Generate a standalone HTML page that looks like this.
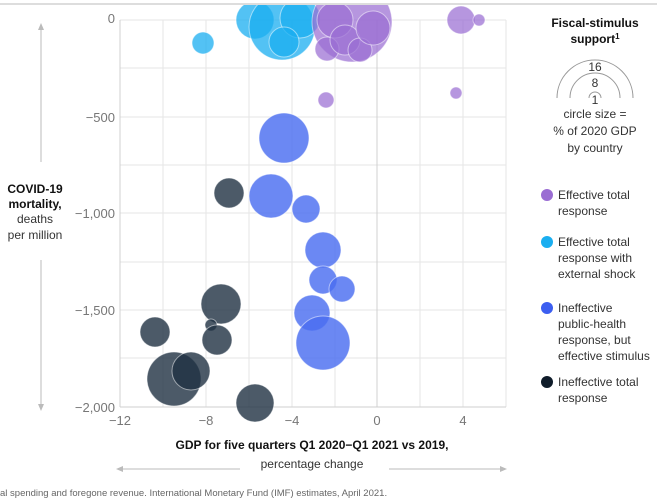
<!DOCTYPE html>
<html><head><meta charset="utf-8"><style>
body{margin:0;background:#fff;}
svg{display:block;font-family:"Liberation Sans",sans-serif;}
</style></head><body>
<svg width="657" height="498" viewBox="0 0 657 498">
<rect width="657" height="498" fill="#fff"/>
<g stroke="#e6e6e6" stroke-width="1">
<line x1="120" y1="68" x2="506" y2="68"/><line x1="120" y1="117" x2="506" y2="117"/>
<line x1="120" y1="165" x2="506" y2="165"/><line x1="120" y1="213" x2="506" y2="213"/>
<line x1="120" y1="262" x2="506" y2="262"/><line x1="120" y1="310" x2="506" y2="310"/>
<line x1="120" y1="358" x2="506" y2="358"/><line x1="120" y1="20" x2="506" y2="20"/>
<line x1="163" y1="20" x2="163" y2="407"/><line x1="206" y1="20" x2="206" y2="407"/>
<line x1="249" y1="20" x2="249" y2="407"/><line x1="292" y1="20" x2="292" y2="407"/>
<line x1="335" y1="20" x2="335" y2="407"/><line x1="420" y1="20" x2="420" y2="407"/>
<line x1="463" y1="20" x2="463" y2="407"/><line x1="506" y1="20" x2="506" y2="407"/>
</g>
<line x1="377" y1="20" x2="377" y2="407" stroke="#d0d0d0"/>
<line x1="120" y1="20" x2="120" y2="407" stroke="#d0d0d0"/>
<line x1="120" y1="407" x2="506" y2="407" stroke="#cfcfcf"/>
<g fill="#1aaef0" fill-opacity="0.75" stroke="#fff" stroke-opacity="0.5">
<circle cx="203" cy="43" r="11"/><circle cx="255" cy="20" r="19"/>
<circle cx="282" cy="27" r="33"/><circle cx="300" cy="18" r="20"/><circle cx="284" cy="42" r="15"/>
</g>
<g fill="#9a6dd3" fill-opacity="0.72" stroke="#fff" stroke-opacity="0.5">
<circle cx="352" cy="22" r="40"/><circle cx="335" cy="20" r="18"/><circle cx="327" cy="49" r="12"/>
<circle cx="345" cy="40" r="15"/><circle cx="360" cy="50" r="12"/><circle cx="373" cy="28" r="17"/>
<circle cx="461" cy="20" r="14"/><circle cx="479" cy="20" r="6"/><circle cx="326" cy="100" r="8"/>
<circle cx="456" cy="93" r="6"/>
</g>
<g fill="#4a6ef0" fill-opacity="0.82" stroke="#fff" stroke-opacity="0.5">
<circle cx="284" cy="138" r="25"/><circle cx="271" cy="196" r="22"/><circle cx="306" cy="209" r="14"/>
<circle cx="323" cy="250" r="18"/><circle cx="323" cy="280" r="14"/><circle cx="342" cy="289" r="13"/>
<circle cx="312" cy="313" r="18"/><circle cx="323" cy="343" r="27"/>
</g>
<g fill="#1f3142" fill-opacity="0.8" stroke="#fff" stroke-opacity="0.5">
<circle cx="229" cy="193" r="15"/><circle cx="221" cy="304" r="20"/><circle cx="155" cy="332" r="15"/>
<circle cx="211" cy="325" r="6"/><circle cx="217" cy="340" r="15"/><circle cx="174" cy="379" r="27"/>
<circle cx="191" cy="371" r="19"/><circle cx="255" cy="403" r="19"/>
</g>
<rect x="0" y="0" width="657" height="4" fill="#fff"/>
<line x1="0" y1="4" x2="657" y2="4" stroke="#ddd" stroke-width="2"/>
<g font-size="13" fill="#777" text-anchor="end">
<text x="115" y="23">0</text><text x="115" y="122">−500</text><text x="115" y="218">−1,000</text>
<text x="115" y="315">−1,500</text><text x="115" y="412">−2,000</text>
</g>
<g font-size="13" fill="#777" text-anchor="middle">
<text x="120" y="425">−12</text><text x="206" y="425">−8</text><text x="292" y="425">−4</text>
<text x="377" y="425">0</text><text x="463" y="425">4</text>
</g>
<g stroke="#bbb"><line x1="41" y1="28" x2="41" y2="162"/><line x1="41" y1="260" x2="41" y2="405"/>
<line x1="120" y1="469" x2="240" y2="469"/><line x1="389" y1="469" x2="503" y2="469"/></g>
<g fill="#bbb"><polygon points="41,23 38,30 44,30"/><polygon points="41,411 38,404 44,404"/>
<polygon points="116,469 123,466 123,472"/><polygon points="507,469 500,466 500,472"/></g>
<g font-size="12" text-anchor="middle" fill="#111">
<text x="35" y="193" font-weight="bold">COVID-19</text>
<text x="35" y="208" font-weight="bold">mortality,</text>
<text x="35" y="223" fill="#333">deaths</text>
<text x="35" y="239" fill="#333">per million</text>
<text x="312" y="449" font-weight="bold">GDP for five quarters Q1 2020−Q1 2021 vs 2019,</text>
<text x="312" y="468" fill="#333">percentage change</text>
</g>
<text x="0" y="496" font-size="9.5" fill="#666">al spending and foregone revenue. International Monetary Fund (IMF) estimates, April 2021.</text>
<g text-anchor="middle" font-size="12" fill="#333">
<text x="595" y="27" font-weight="bold" fill="#111">Fiscal-stimulus</text>
<text x="595" y="43" font-weight="bold" fill="#111">support<tspan font-size="8" dy="-4">1</tspan></text>
<text x="595" y="71">16</text><text x="595" y="87">8</text><text x="595" y="104">1</text>
<text x="595" y="118">circle size =</text><text x="595" y="135">% of 2020 GDP</text><text x="595" y="152">by country</text>
</g>
<g fill="none" stroke="#999"><path d="M557,98 A38,38 0 0 1 633,98"/><path d="M570,98 A25,25 0 0 1 620,98"/><path d="M589,98 A6,6 0 0 1 601,98"/></g>
<circle cx="547" cy="195" r="6" fill="#9a6dd3"/><circle cx="547" cy="242" r="6" fill="#1aaef0"/>
<circle cx="547" cy="308" r="6" fill="#3c5ef0"/><circle cx="547" cy="382" r="6" fill="#0f1c2a"/>
<g font-size="12" fill="#333">
<text x="558" y="199">Effective total</text><text x="558" y="215">response</text>
<text x="558" y="246">Effective total</text><text x="558" y="262">response with</text><text x="558" y="278">external shock</text>
<text x="558" y="312">Ineffective</text><text x="558" y="328">public-health</text><text x="558" y="344">response, but</text><text x="558" y="360">effective stimulus</text>
<text x="558" y="386">Ineffective total</text><text x="558" y="402">response</text>
</g>
</svg>
</body></html>
